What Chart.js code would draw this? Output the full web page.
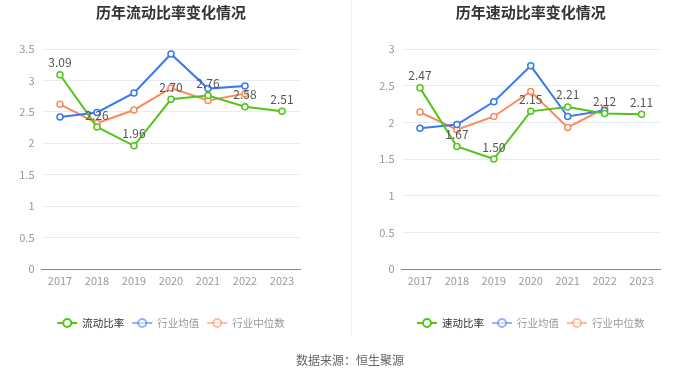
<!DOCTYPE html>
<html><head><meta charset="utf-8">
<script src="https://cdn.jsdelivr.net/npm/chart.js@4/dist/chart.umd.min.js"></script>
<style>
html,body{margin:0;padding:0;background:#fff;width:700px;height:378px;overflow:hidden;font-family:"Noto Sans CJK SC","Noto Sans",sans-serif;}
#wrapL{position:absolute;left:0;top:0;width:350px;height:378px;}
#wrapR{position:absolute;left:350px;top:0;width:350px;height:378px;}
#divider{position:absolute;left:351px;top:0;width:1px;height:335px;background:#f0f0f0;}
#source{position:absolute;left:0;top:351px;width:700px;text-align:center;font-size:12px;color:#666;}
</style></head>
<body>
<div id="wrapL"><canvas id="cL" width="350" height="378"></canvas></div>
<div id="wrapR"><canvas id="cR" width="350" height="378"></canvas></div>
<div id="divider"></div>
<div id="source">数据来源：恒生聚源</div>
<script>
const years = ['2017','2018','2019','2020','2021','2022','2023'];
const currentRatio = [3.09, 2.26, 1.96, 2.70, 2.76, 2.58, 2.51];
const currentIndAvg = [2.42, 2.49, 2.80, 3.42, 2.87, 2.91, null];
const currentIndMed = [2.62, 2.32, 2.53, 2.88, 2.68, 2.79, null];
const quickRatio = [2.47, 1.67, 1.50, 2.15, 2.21, 2.12, 2.11];
const quickIndAvg = [1.92, 1.97, 2.28, 2.77, 2.08, 2.16, null];
const quickIndMed = [2.14, 1.90, 2.08, 2.42, 1.93, 2.19, null];
const leftTicks = {max: 3.5, step: 0.5};
const rightTicks = {max: 3, step: 0.5};

const GREEN = '#52c41a', BLUE = '#3a78f0', ORANGE = '#fa8a5c';
const FONT = '"Noto Sans CJK SC","Noto Sans",sans-serif';

const decorPlugin = {
  id: 'decor',
  afterDatasetsDraw(chart, args, opts) {
    const ctx = chart.ctx;
    const ca = chart.chartArea;
    const cx = (ca.left + ca.right) / 2;
    ctx.save();
    const meta = chart.getDatasetMeta(0);
    ctx.font = '12px ' + FONT;
    ctx.fillStyle = '#555';
    ctx.textAlign = 'center';
    ctx.textBaseline = 'middle';
    meta.data.forEach((pt, i) => {
      const v = chart.data.datasets[0].data[i];
      if (v == null) return;
      ctx.fillText(v.toFixed(2), pt.x, pt.y - 12);
    });
    ctx.font = 'bold 15px ' + FONT;
    ctx.fillStyle = '#333';
    ctx.fillText(opts.title, cx, 12);
    ctx.font = '10.5px ' + FONT;
    const items = chart.data.datasets.map((d, i) => ({
      label: d.label, color: d.borderColor, w: ctx.measureText(d.label).width, faded: i > 0
    }));
    const iconW = 20, gap1 = 5, gap2 = 8;
    let total = 0;
    items.forEach((it, i) => { total += iconW + gap1 + it.w + (i < items.length - 1 ? gap2 : 0); });
    let x = cx - total / 2;
    const y = 323;
    items.forEach(it => {
      ctx.globalAlpha = it.faded ? 0.55 : 1;
      ctx.strokeStyle = it.color;
      ctx.lineWidth = 2;
      ctx.beginPath(); ctx.moveTo(x, y); ctx.lineTo(x + iconW, y); ctx.stroke();
      ctx.beginPath(); ctx.arc(x + iconW / 2, y, 4, 0, Math.PI * 2);
      ctx.fillStyle = '#fff'; ctx.fill(); ctx.stroke();
      ctx.globalAlpha = 1;
      ctx.fillStyle = it.faded ? '#999' : '#333';
      ctx.textAlign = 'left';
      ctx.fillText(it.label, x + iconW + gap1, y);
      x += iconW + gap1 + it.w + gap2;
    });
    ctx.restore();
  }
};

function makeChart(id, title, labels, s1, s2, s3, tick, yWidth, padRight) {
  const ds = (label, data, color) => ({
    label, data, borderColor: color, backgroundColor: '#fff',
    borderWidth: 2, pointRadius: 3, pointBorderWidth: 1.5,
    pointBackgroundColor: '#fff', pointBorderColor: color, tension: 0, spanGaps: false
  });
  return new Chart(document.getElementById(id), {
    type: 'line',
    data: {
      labels: years,
      datasets: [ds(labels[0], s1, GREEN), ds(labels[1], s2, BLUE), ds(labels[2], s3, ORANGE)]
    },
    options: {
      responsive: false, animation: false,
      layout: {padding: {left: 0, right: padRight, top: 49, bottom: 79}},
      plugins: {legend: {display: false}, title: {display: false}, tooltip: {enabled: false}, decor: {title}},
      scales: {
        x: {
          offset: true,
          grid: {display: false, drawTicks: false},
          border: {display: true, color: '#888', width: 1},
          ticks: {color: '#999', font: {size: 11, family: FONT}, padding: 5, maxRotation: 0},
          afterFit(s) { s.height = 30; }
        },
        y: {
          min: 0, max: tick.max,
          grid: {color: '#e6ebf5', drawTicks: false},
          border: {display: false},
          ticks: {stepSize: tick.step, color: '#999', font: {size: 11, family: FONT}, padding: 7,
            callback: v => String(+v.toFixed(1))},
          afterFit(s) { s.width = yWidth; }
        }
      }
    },
    plugins: [decorPlugin]
  });
}

makeChart('cL', '历年流动比率变化情况', ['流动比率', '行业均值', '行业中位数'],
  currentRatio, currentIndAvg, currentIndMed, leftTicks, 41.5, 49.5);
makeChart('cR', '历年速动比率变化情况', ['速动比率', '行业均值', '行业中位数'],
  quickRatio, quickIndAvg, quickIndMed, rightTicks, 51.5, 40);
</script>
</body></html>
